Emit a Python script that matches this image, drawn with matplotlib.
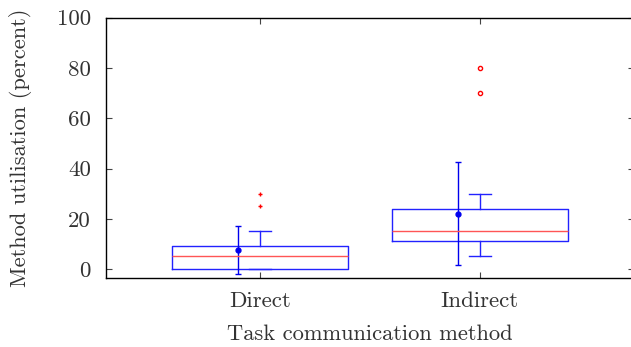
import numpy as np
import matplotlib
matplotlib.use('Agg')
import matplotlib.pyplot as plt

plt.rcParams['font.family'] = 'cmr10'
plt.rcParams['axes.unicode_minus'] = False
plt.rcParams['mathtext.fontset'] = 'cm'

# data
methods = ['Direct', 'Indirect']
q1 = [0, 11]
medians = [5, 15]
q3 = [9, 23.7]
whis_lo = [0, 5]
whis_hi = [15, 30]
fliers = [[25, 30], [70, 80]]
means = [7.6, 22.0]
sds = [9.6, 20.4]

positions = np.arange(1, len(methods) + 1)

stats = []
for i in range(len(methods)):
    stats.append({'label': methods[i], 'q1': q1[i], 'med': medians[i], 'q3': q3[i],
                  'whislo': whis_lo[i], 'whishi': whis_hi[i], 'fliers': fliers[i]})

fig = plt.figure(figsize=(6.31, 3.47), dpi=100)
ax = fig.add_axes([0.168, 0.2, 0.836, 0.749])

ax.bxp(stats, positions=positions, widths=0.8, showfliers=False,
       boxprops=dict(color='#2222ff', lw=1.0),
       whiskerprops=dict(color='#2222ff', lw=1.0),
       capprops=dict(color='#2222ff', lw=1.0),
       medianprops=dict(color='#ff5555', lw=1.0),
       capwidths=0.1)

# outliers: plus for Direct, small open circles for Indirect
ax.plot([positions[0]] * len(fliers[0]), fliers[0], '+', color='red', ms=3, mew=1.0)
ax.plot([positions[1]] * len(fliers[1]), fliers[1], 'o', mfc='none', mec='red', ms=3, mew=1.0)

# mean +/- sd
ax.errorbar(positions - 0.1, means, yerr=sds, fmt='o', color='#0000ee', ms=3.5,
            capsize=2.5, elinewidth=1.0, capthick=1.0)

ax.set_xlim(0.3, 2.7)
ax.set_ylim(-3.4, 100)
ax.set_xticks(positions)
ax.set_xticklabels(methods)
ax.set_yticks([0, 20, 40, 60, 80, 100])
ax.tick_params(direction='in', top=True, right=True, length=4, labelsize=16.5, colors='#444444')
ax.tick_params(axis='y', pad=11)
ax.tick_params(axis='x', pad=10)
for lab in ax.get_xticklabels() + ax.get_yticklabels():
    lab.set_color('#333333')
for s in ax.spines.values():
    s.set_linewidth(1.0)

ax.set_xlabel('Task communication method', fontsize=16.2, color='#333333', labelpad=10)
ax.set_ylabel('Method utilisation (percent)', fontsize=16.2, color='#333333', labelpad=18)

fig.savefig('out.png', dpi=100)
